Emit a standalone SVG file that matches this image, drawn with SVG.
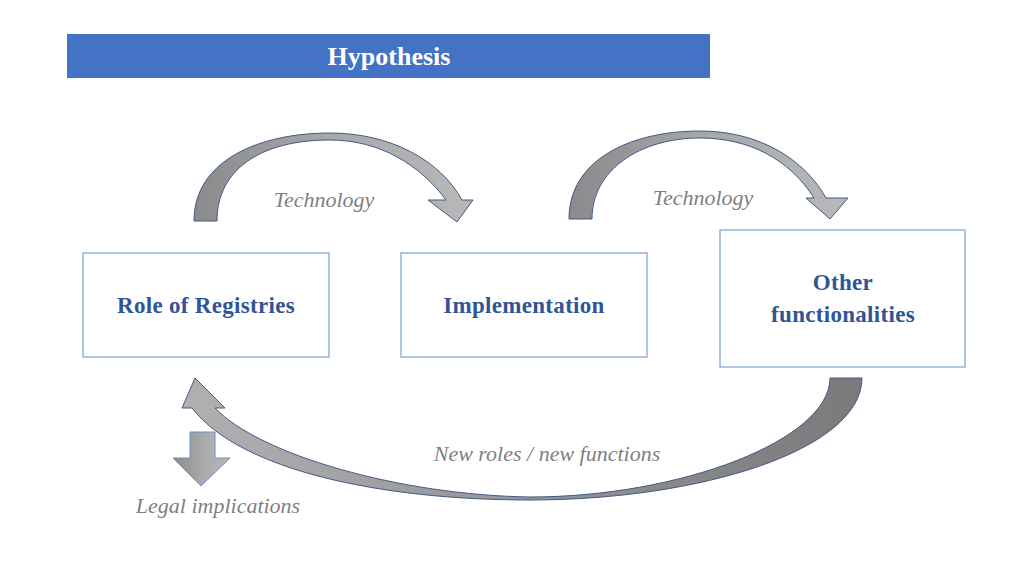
<svg xmlns="http://www.w3.org/2000/svg" width="1024" height="576" viewBox="0 0 1024 576">
<style>
.box{fill:#fff;stroke:#7f9fd6;stroke-width:1.2}
.bt{font-family:"Liberation Serif",serif;font-weight:bold;font-size:23px;fill:#2f5597;text-anchor:middle;letter-spacing:0.3px}
.it{font-family:"Liberation Serif",serif;font-style:italic;font-size:22px;fill:#7f7f7f;text-anchor:middle}
.arr{fill:url(#g);stroke:#3f5a8a;stroke-width:1}
</style>
<defs>
<linearGradient id="g" x1="0" y1="0" x2="1" y2="0"><stop offset="0" stop-color="#8a8a8a"/><stop offset="0.5" stop-color="#a9a9a9"/><stop offset="1" stop-color="#b8b8b8"/></linearGradient>
<linearGradient id="g2" x1="0" y1="0" x2="1" y2="0"><stop offset="0" stop-color="#b0b0b0"/><stop offset="1" stop-color="#7a7a7a"/></linearGradient>
</defs>
<rect x="67" y="34" width="643" height="44" fill="#4472c4"/>
<text x="389" y="65" font-family="Liberation Serif,serif" font-weight="bold" font-size="26" fill="#fff" text-anchor="middle">Hypothesis</text>
<g id="connectors">
<path class="arr" d="M194,221 C194,160 260,133 330,133 C390,133 440,160 462,200 L473,200 L457,222 L428,200 L446,200 C420,165 380,140 330,140 C260,140 217,170 217,221 Z"/>
<path class="arr" d="M569,219 C569,160 630,131 700,131 C760,131 805,160 826,198 L848,198 L830,219 L806,198 L814,198 C790,160 750,138 700,138 C640,138 592,170 592,219 Z"/>
<path class="arr" style="fill:url(#g2)" d="M862,378 C862,450 700,500 530,500 C380,500 240,470 192,408 L182,408 L195,378 L225,408 L215,408 C260,455 400,495 530,497 C680,497 830,440 830,378 Z"/>
<path class="arr" style="stroke:#6d8ccc" d="M190,432 L215,432 L215,458 L230,458 L201,486 L173,458 L190,458 Z"/>
</g>
<text class="it" x="324" y="207">Technology</text>
<text class="it" x="703" y="205">Technology</text>
<text class="it" x="547" y="461">New roles / new functions</text>
<text class="it" x="218" y="513">Legal implications</text>
<g id="n1"><rect class="box" x="83" y="253" width="246" height="104"/><text class="bt" x="206" y="313">Role of  Registries</text></g>
<g id="n2"><rect class="box" x="401" y="253" width="246" height="104"/><text class="bt" x="524" y="313">Implementation</text></g>
<g id="n3"><rect class="box" x="720" y="230" width="245" height="137"/><text class="bt" x="843" y="290">Other</text><text class="bt" x="843" y="322">functionalities</text></g>
</svg>
